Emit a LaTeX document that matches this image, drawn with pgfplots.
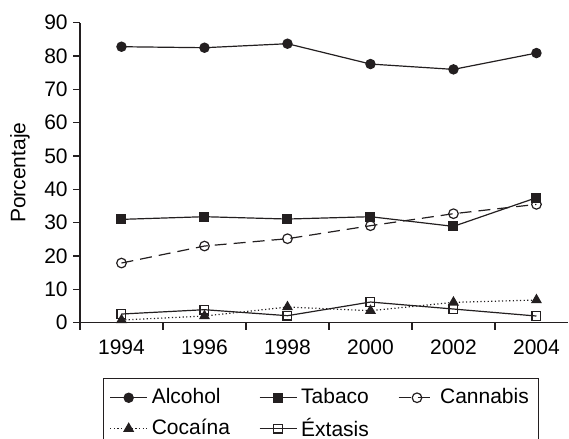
\documentclass[border=0pt]{standalone}
\usepackage{fontspec}
\setmainfont{Liberation Sans}
\usepackage{pgfplots}
\pgfplotsset{compat=1.18}
\definecolor{ink}{HTML}{231F20}
\begin{document}
\fontsize{10.5}{12.6}\selectfont
\begin{tikzpicture}
    \begin{axis}[
            scale only axis,
            width = 244pt,
            height = 150pt,
            xmin = 1993, xmax = 2004.76,
            ymin = 0, ymax = 90,
            axis lines = left,
            axis line style = {-, ink, line width=0.6pt},
            xtick = {1994,1996,...,2004},
            minor xtick = {1993,1995,...,2003},
            ytick = {0,10,...,90},
            major x tick style = {draw=none},
            tick align = outside,
            tick style = {ink, line width=0.6pt},
            major tick length = 3.5pt,
            minor tick length = 3.5pt,
            xticklabel style = {yshift=-1.5pt},
            yticklabel style = {xshift=1pt},
            /pgf/number format/assume math mode=true,
            /pgf/number format/1000 sep={},
            ylabel = {Porcentaje},
            every axis y label/.style = {at={(axis description cs:-0.123,0.5)}, rotate=90, anchor=center},
            legend columns = 3,
            legend cell align = left,
            legend image code/.code = {\draw[mark repeat=2,mark phase=2,#1] plot coordinates {(0pt,0pt)(9.25pt,0pt)(18.5pt,0pt)};},
            legend style = {at={(0.0471,-0.1843)}, anchor=north west,
                draw=ink, line width=0.6pt, inner xsep=3pt, inner ysep=3pt, row sep=1.5pt,
                /tikz/every even column/.append style={column sep=12.5pt}},
            every axis plot/.append style = {ink, line width=0.6pt},
            clip = false,
        ]
        \addplot [solid, mark=*, mark size=2.3pt, mark options={fill=ink}]
        coordinates {(1994,82.8) (1996,82.5) (1998,83.7) (2000,77.6) (2002,76.0) (2004,80.9)};
        \addlegendentry{Alcohol}
        \addplot [solid, mark=square*, mark size=2.2pt, mark options={fill=ink}]
        coordinates {(1994,31.0) (1996,31.8) (1998,31.1) (2000,31.8) (2002,28.9) (2004,37.5)};
        \addlegendentry{Tabaco}
        \addplot [dash pattern=on 6pt off 3.5pt, mark=o, mark size=2.4pt, mark options={solid, fill=white}]
        coordinates {(1994,17.9) (1996,23.0) (1998,25.2) (2000,29.1) (2002,32.7) (2004,35.5)};
        \addlegendentry{Cannabis}
        \addplot [dash pattern=on 0.6pt off 1.2pt, mark=triangle*, mark size=2.6pt, mark options={solid, fill=ink}]
        coordinates {(1994,0.8) (1996,2.0) (1998,4.7) (2000,3.6) (2002,6.1) (2004,6.8)};
        \addlegendentry{Cocaína}
        \addplot [solid, mark=square, mark size=2.2pt, mark options={fill=white}]
        coordinates {(1994,2.6) (1996,3.9) (1998,2.1) (2000,6.2) (2002,4.1) (2004,2.0)};
        \addlegendentry{Éxtasis}
    \end{axis}
    \pgfresetboundingbox
    \useasboundingbox (-40pt,-58.15pt) rectangle (244.5pt,161.35pt);
\end{tikzpicture}
\end{document}
